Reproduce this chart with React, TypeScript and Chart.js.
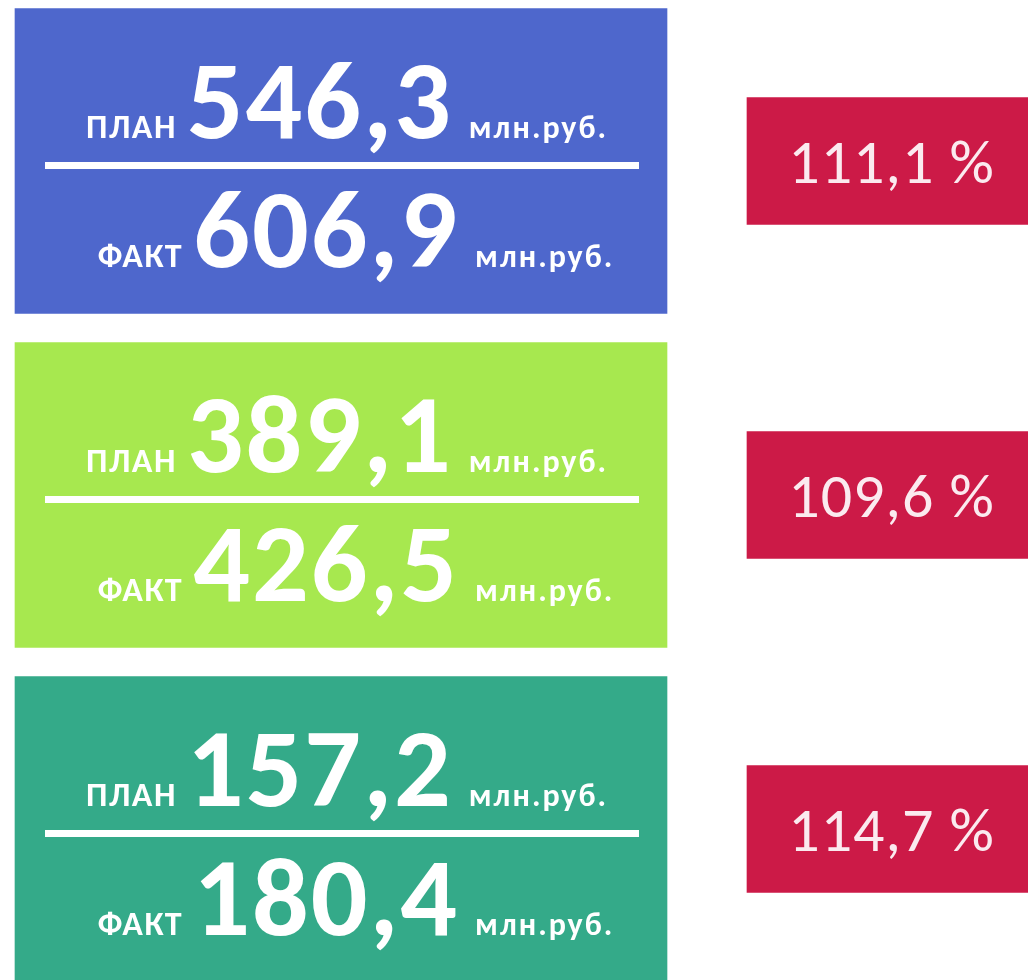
import React, { useEffect, useRef } from "react";
import { Chart, registerables } from "chart.js";

Chart.register(...registerables);

// ---- data ----
const categories = ["1", "2", "3"];
const planValues = [546.3, 389.1, 157.2];
const factValues = [606.9, 426.5, 180.4];
const percentValues = [111.1, 109.6, 114.7];
const planLabel = "ПЛАН";
const factLabel = "ФАКТ";
const unitLabel = "млн.руб.";

// ---- styles / layout ----
const boxColors = ["#4e67cc", "#a7e84f", "#34aa89"];
const pctColor = "#cc1a47";
const boxSpan: [number, number] = [15, 667];
const pctSpan: [number, number] = [747, 1040];
const FONT = "Carlito, Lato, 'Open Sans', sans-serif";

const fmt = (v: number) => v.toFixed(1).replace(".", ",");

const setFont = (ctx: any, font: string, spacing: string) => {
  ctx.font = font;
  try {
    ctx.letterSpacing = spacing;
  } catch (e) {
    /* ignore */
  }
};

const textPlugin = {
  id: "boxText",
  afterDatasetsDraw(chart: any) {
    const ctx = chart.ctx as CanvasRenderingContext2D;
    const boxMeta = chart.getDatasetMeta(0);
    const pctMeta = chart.getDatasetMeta(1);
    const labelFont = `bold 34px ${FONT}`;
    const numFont = `bold 112px ${FONT}`;
    const unitFont = `bold 32px ${FONT}`;
    ctx.save();
    boxMeta.data.forEach((bar: any, i: number) => {
      const left = Math.min(bar.x, bar.base);
      const cy = bar.y;
      // divider line
      ctx.fillStyle = "#ffffff";
      ctx.fillRect(left + 30, cy + 1, 594, 7);
      const drawRow = (label: string, value: number, baseline: number, center: number) => {
        const vs = fmt(value);
        setFont(ctx, labelFont, "1.5px");
        const wl = ctx.measureText(label).width;
        setFont(ctx, numFont, "2px");
        const wv = ctx.measureText(vs).width;
        setFont(ctx, unitFont, "2px");
        const wu = ctx.measureText(unitLabel).width;
        const g1 = 10;
        const g2 = 16;
        const total = wl + g1 + wv + g2 + wu;
        let x = left + center - total / 2;
        ctx.textBaseline = "alphabetic";
        ctx.textAlign = "left";
        ctx.fillStyle = "#ffffff";
        setFont(ctx, labelFont, "1.5px");
        ctx.fillText(label, x, baseline);
        x += wl + g1;
        setFont(ctx, numFont, "2px");
        ctx.fillText(vs, x, baseline);
        x += wv + g2;
        setFont(ctx, unitFont, "2px");
        ctx.fillText(unitLabel, x, baseline);
      };
      drawRow(planLabel, planValues[i], cy - 23, 332);
      drawRow(factLabel, factValues[i], cy + 106, 341);
    });
    pctMeta.data.forEach((bar: any, i: number) => {
      const cx = (bar.x + bar.base) / 2 - 2;
      setFont(ctx, `62px ${FONT}`, "1px");
      ctx.fillStyle = "#fbeaef";
      ctx.textAlign = "center";
      ctx.textBaseline = "alphabetic";
      ctx.fillText(`${fmt(percentValues[i])} %`, cx, bar.y + 22);
    });
    ctx.restore();
  },
};

export default function App() {
  const ref = useRef<HTMLCanvasElement | null>(null);
  useEffect(() => {
    if (!ref.current) return;
    const chart = new Chart(ref.current, {
      type: "bar",
      data: {
        labels: categories,
        datasets: [
          {
            label: "План / Факт",
            data: planValues.map(() => boxSpan) as any,
            backgroundColor: boxColors,
            barThickness: 305,
            grouped: false,
            borderWidth: 0,
          },
          {
            label: "Исполнение",
            data: percentValues.map(() => pctSpan) as any,
            backgroundColor: pctColor,
            barThickness: 127,
            grouped: false,
            borderWidth: 0,
          },
        ],
      },
      options: {
        indexAxis: "y",
        responsive: false,
        animation: false,
        layout: { padding: 0 },
        plugins: { legend: { display: false }, tooltip: { enabled: false } },
        scales: {
          x: { type: "linear", min: 0, max: 1028, display: false },
          y: { type: "category", display: false, offset: true },
        },
      },
      plugins: [textPlugin],
    });
    return () => chart.destroy();
  }, []);
  return (
    <div style={{ position: "fixed", left: 0, top: -6, width: 1028, height: 1002, background: "#ffffff" }}>
      <canvas ref={ref} width={1028} height={1002} style={{ display: "block" }} />
    </div>
  );
}
